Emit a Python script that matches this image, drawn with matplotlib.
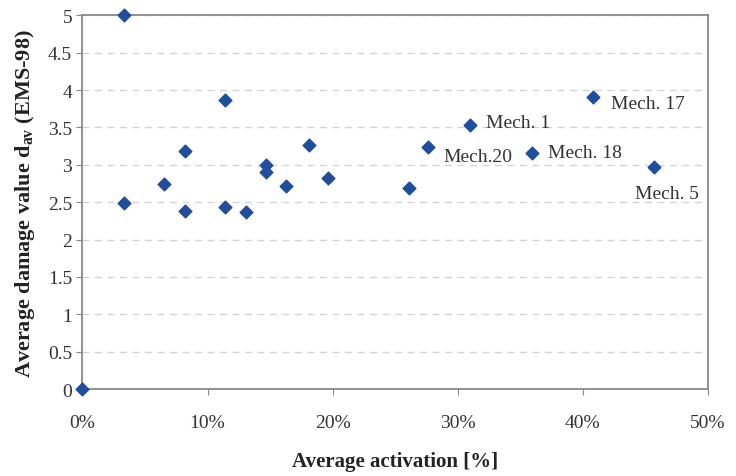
import matplotlib.pyplot as plt
from matplotlib.ticker import PercentFormatter

# average activation [%] and average damage value d_av
activation = [0.0, 3.3, 3.3, 6.5, 8.2, 8.2, 11.4, 11.4, 13.1, 14.7, 14.7,
              16.3, 18.1, 19.6, 26.1, 27.6, 31.0, 35.9, 40.8, 45.7]
damage = [0.0, 5.0, 2.49, 2.75, 3.18, 2.38, 3.86, 2.43, 2.37, 3.0, 2.9,
          2.71, 3.26, 2.82, 2.69, 3.24, 3.53, 3.16, 3.9, 2.97]

labels = {15: "Mech.20", 16: "Mech. 1", 17: "Mech. 18", 18: "Mech. 17", 19: "Mech. 5"}
label_offsets = {15: (11, -7), 16: (11, 2), 17: (12, 0), 18: (13, -4), 19: (-14, -19)}

plt.rcParams['font.family'] = ['Liberation Serif', 'DejaVu Serif']

fig, ax = plt.subplots(figsize=(7.36, 4.77), dpi=100)
fig.subplots_adjust(left=0.112, right=0.962, top=0.966, bottom=0.182)

ax.scatter(activation, damage, marker='D', s=42, color='#1f4e9c', zorder=3, clip_on=False)

for i, text in labels.items():
    ax.annotate(text, (activation[i], damage[i]), xytext=label_offsets[i],
                textcoords='offset points', fontsize=14, color='#333333',
                ha='left', va='center')

ax.set_xlim(0, 50)
ax.set_ylim(0, 5)
ax.set_xticks(range(0, 51, 10))
ax.set_yticks([0, 0.5, 1, 1.5, 2, 2.5, 3, 3.5, 4, 4.5, 5])
ax.set_yticklabels(['0', '0.5', '1', '1.5', '2', '2.5', '3', '3.5', '4', '4.5', '5'])
ax.xaxis.set_major_formatter(PercentFormatter(decimals=0))
ax.tick_params(labelsize=14, colors='#333333', length=4, color='#888888')
ax.tick_params(axis='x', pad=14)
ax.yaxis.grid(True, linestyle=(0, (5, 4)), color='#d4d4d4', linewidth=1)
for s in ax.spines.values():
    s.set_color('#888888')
    s.set_linewidth(1.3)

ax.set_xlabel("Average activation [%]", fontsize=15, fontweight='bold', labelpad=14, color='#222222')
ax.set_ylabel("Average damage value d$_{\\mathregular{av}}$ (EMS-98)", fontsize=16,
              fontweight='bold', labelpad=8, color='#222222')

fig.savefig("out.png")
